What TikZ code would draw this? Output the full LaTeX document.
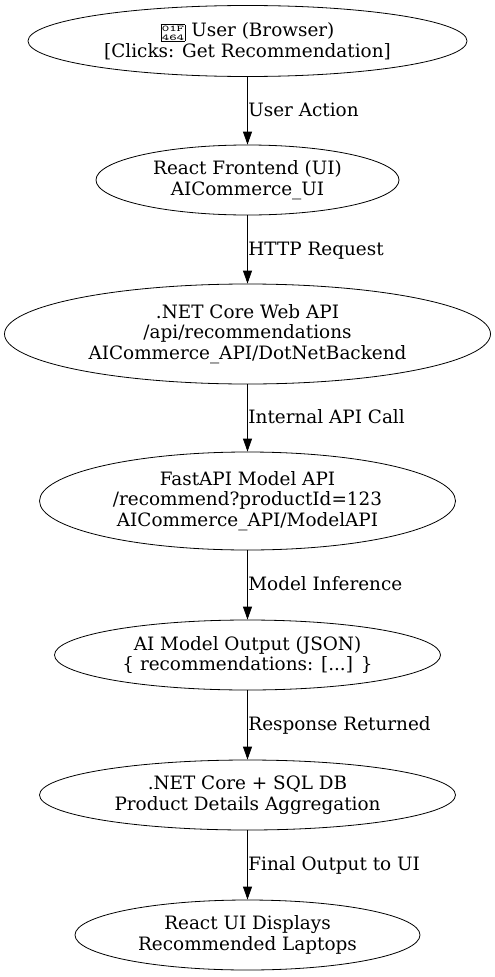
\documentclass[tikz,border=0pt]{standalone}
\usepackage{xcolor}
\usepackage{graphicx}
\usepackage{fontspec}
\setmainfont{DejaVu Serif}
\usetikzlibrary{shapes.geometric,arrows.meta}

\newcommand{\hexbox}{\raisebox{-3.5pt}{\setlength{\fboxsep}{0.8pt}\setlength{\fboxrule}{0.5pt}\fbox{\scalebox{1.75}[1.1]{\fontsize{8}{8.2}\selectfont\ttfamily\shortstack{01F\\464}}}}}

\tikzset{
    flowbox/.style={draw=black, ellipse, inner sep=0pt, align=center, font=\fontsize{18.4}{20.5}\selectfont},
    flowlabel/.style={right, inner sep=0.5pt, yshift=-1pt, text height=13pt, text depth=4pt, font=\fontsize{18.4}{20.5}\selectfont},
}

\begin{document}
\begin{tikzpicture}[x=1pt, y=-1pt, >={Triangle[length=13pt, width=9pt]}, line width=0.8pt]
    % --- Fixed page size ---
    \useasboundingbox (0,0) rectangle (495,977);

    % --- Ellipses, top to bottom ---
    \node[flowbox, minimum width=439pt, minimum height=71pt] (user) at (247.5,41) {\hexbox{} User (Browser)\\{}[Clicks: Get Recommendation]};
    \node[flowbox, minimum width=303pt, minimum height=70pt] (frontend) at (247.5,180) {React Frontend (UI)\\AICommerce\_UI};
    \node[flowbox, minimum width=486pt, minimum height=100pt] (webapi) at (247.5,334) {.NET Core Web API\\/api/recommendations\\AICommerce\_API/DotNetBackend};
    \node[flowbox, minimum width=416pt, minimum height=98pt] (modelapi) at (247.5,501) {FastAPI Model API\\/recommend?productId=123\\AICommerce\_API/ModelAPI};
    \node[flowbox, minimum width=386pt, minimum height=70pt] (output) at (247.5,655) {AI Model Output (JSON)\\\{ recommendations: [...] \}};
    \node[flowbox, minimum width=416pt, minimum height=70pt] (aggregate) at (247.5,795) {.NET Core + SQL DB\\Product Details Aggregation};
    \node[flowbox, minimum width=345pt, minimum height=70pt] (display) at (247.5,935) {React UI Displays\\Recommended Laptops};

    % --- Arrows with their labels ---
    \draw[->] (user) -- (frontend) node[flowlabel, midway] (lab1) {User Action};
    \draw[->] (frontend) -- (webapi) node[flowlabel, midway] (lab2) {HTTP Request};
    \draw[->] (webapi) -- (modelapi) node[flowlabel, midway] (lab3) {Internal API Call};
    \draw[->] (modelapi) -- (output) node[flowlabel, midway] (lab4) {Model Inference};
    \draw[->] (output) -- (aggregate) node[flowlabel, midway] (lab5) {Response Returned};
    \draw[->] (aggregate) -- (display) node[flowlabel, midway] (lab6) {Final Output to UI};
\end{tikzpicture}
\end{document}
